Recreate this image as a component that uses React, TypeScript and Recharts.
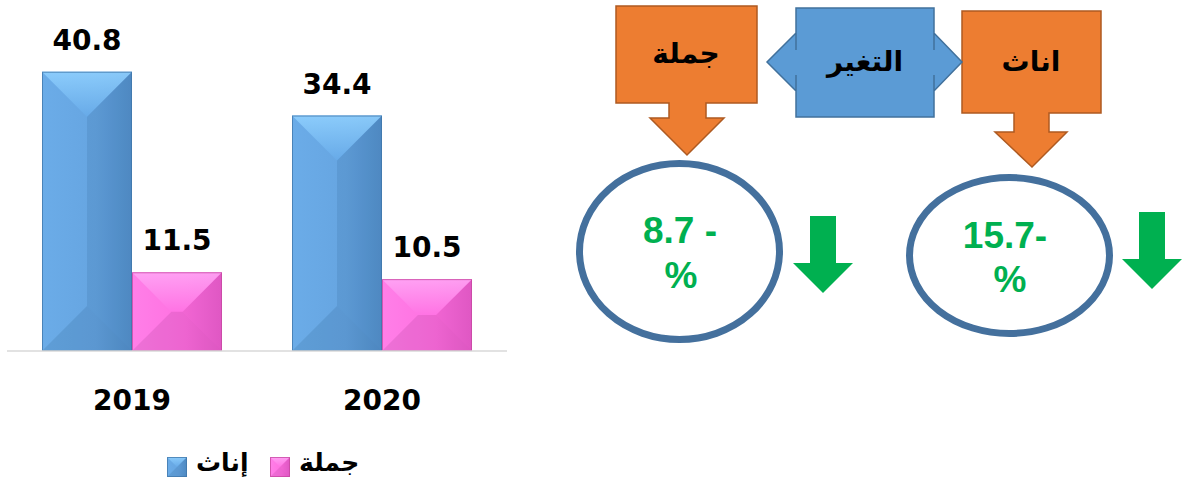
import React from 'react';
import { BarChart, Bar, XAxis, YAxis, LabelList, Legend } from 'recharts';

// ---- data ----
const categories = ['2019', '2020'];
const femaleValues = [40.8, 34.4];
const totalValues = [11.5, 10.5];
const seriesNames = ['إناث', 'جملة'];
const boxTitles = ['جملة', 'التغير', 'اناث'];
const totalChange = ['8.7 -', '%'];
const femaleChange = ['15.7-', '%'];

const data = categories.map((year, i) => ({
  year,
  females: femaleValues[i],
  total: totalValues[i],
}));

const NUM_FONT = '"DejaVu Sans", Verdana, sans-serif';
const AR_FONT = '"DejaVu Sans", sans-serif';
const PCT_FONT = '"Liberation Sans", Arial, sans-serif';

type Palette = {
  key: string;
  left: string;
  mid: string;
  right: string;
  topA: string;
  topB: string;
  stroke: string;
};

const BLUE: Palette = {
  key: 'blue',
  left: '#67AAE8',
  mid: '#62A3E1',
  right: '#5391CE',
  topA: '#92D2FF',
  topB: '#68ABE9',
  stroke: '#3F75A8',
};
const PINK: Palette = {
  key: 'pink',
  left: '#FF7BE8',
  mid: '#FF6CE0',
  right: '#EE5DD0',
  topA: '#FFA9F6',
  topB: '#FF74E4',
  stroke: '#C4479F',
};

function bevelParts(x: number, y: number, w: number, h: number) {
  const cx = x + w / 2;
  const cy = y + h / 2;
  const d = Math.min(w, h) / 2;
  let p1: number[], p2: number[], p3: number[], p4: number[];
  if (w <= h) {
    p1 = [cx, y + d];
    p2 = [cx, y + d];
    p3 = [cx, y + h - d];
    p4 = [cx, y + h - d];
  } else {
    p1 = [x + d, cy];
    p2 = [x + w - d, cy];
    p3 = [x + w - d, cy];
    p4 = [x + d, cy];
  }
  const pts = (arr: number[][]) => arr.map((p) => p.join(',')).join(' ');
  return {
    top: pts([[x, y], [x + w, y], p2, p1]),
    right: pts([[x + w, y], [x + w, y + h], p3, p2]),
    bottom: pts([[x + w, y + h], [x, y + h], p4, p3]),
    left: pts([[x, y + h], [x, y], p1, p4]),
  };
}

function BevelRect({ x, y, w, h, pal, id }: { x: number; y: number; w: number; h: number; pal: Palette; id: string }) {
  const parts = bevelParts(x, y, w, h);
  return (
    <g>
      <defs>
        <linearGradient id={`base-${id}`} x1="0" y1="0" x2="1" y2="0">
          <stop offset="0%" stopColor={pal.left} />
          <stop offset="60%" stopColor={pal.mid} />
          <stop offset="100%" stopColor={pal.right} />
        </linearGradient>
        <linearGradient id={`top-${id}`} x1="0" y1="0" x2="0" y2="1">
          <stop offset="0%" stopColor={pal.topA} />
          <stop offset="100%" stopColor={pal.topB} />
        </linearGradient>
      </defs>
      <rect x={x} y={y} width={w} height={h} fill={`url(#base-${id})`} />
      <polygon points={parts.top} fill={`url(#top-${id})`} opacity={0.85} />
      <polygon points={parts.right} fill="#000" opacity={0.06} />
      <polygon points={parts.bottom} fill="#000" opacity={0.07} />
      <polygon points={parts.left} fill="#fff" opacity={0.03} />
      <rect x={x + 0.5} y={y + 0.5} width={Math.max(w - 1, 0)} height={Math.max(h - 1, 0)} fill="none" stroke={pal.stroke} strokeWidth={1} opacity={0.75} />
    </g>
  );
}

const makeShape = (pal: Palette) => (props: any) => {
  const { x, y, width, height, index } = props;
  if (!width || !height) return <g />;
  return <BevelRect x={x} y={y} w={width} h={height} pal={pal} id={`${pal.key}-${index}`} />;
};

const renderValueLabel = (props: any) => {
  const { x, y, width, value } = props;
  return (
    <text
      x={x + width / 2}
      y={y - 22}
      textAnchor="middle"
      fontFamily={NUM_FONT}
      fontWeight="bold"
      fontSize={28}
      fill="#000"
    >
      {value}
    </text>
  );
};

const renderTick = (props: any) => {
  const { x, y, payload } = props;
  return (
    <text x={x} y={y + 59} textAnchor="middle" fontFamily={NUM_FONT} fontWeight="bold" fontSize={28} fill="#000">
      {payload.value}
    </text>
  );
};

const renderLegend = (props: any) => {
  const payload = props.payload || [];
  const pals = [BLUE, PINK];
  return (
    <svg width={220} height={44} style={{ overflow: 'visible' }}>
      {payload.map((entry: any, i: number) => {
        const ox = 7 + i * 103;
        return (
          <g key={i}>
            <BevelRect x={ox} y={17} w={20} h={20} pal={pals[i]} id={`leg-${i}`} />
            <text x={ox + 29} y={31} fontFamily={AR_FONT} fontWeight="bold" fontSize={25} fill="#000" textAnchor="start">
              {entry.value}
            </text>
          </g>
        );
      })}
    </svg>
  );
};

function Infographic() {
  const orange = '#ED7D31';
  const orangeStroke = '#AE5A21';
  const blue = '#5B9BD5';
  const blueStroke = '#41719C';
  const ring = '#44709D';
  const green = '#00B050';
  return (
    <svg width={1191} height={484} style={{ position: 'absolute', left: 0, top: 0 }}>
      {/* left orange down-arrow callout */}
      <polygon
        points="616,6 757,6 757,103 706,103 706,118 724,118 687,155 650,118 669,118 669,103 616,103"
        fill={orange}
        stroke={orangeStroke}
        strokeWidth={1.5}
      />
      {/* right orange down-arrow callout */}
      <polygon
        points="962,11 1101,11 1101,113 1049,113 1049,132 1067,132 1032,167 995,132 1014,132 1014,113 962,113"
        fill={orange}
        stroke={orangeStroke}
        strokeWidth={1.5}
      />
      {/* blue left-right arrow callout */}
      <path
        d="M796,8 H934 V50 V33 L962,62 L934,91 V75 V117 H796 V75 V91 L767,62 L796,33 V50 Z"
        fill={blue}
        stroke={blueStroke}
        strokeWidth={1.5}
        strokeLinejoin="miter"
      />
      <text x={686} y={63} textAnchor="middle" fontFamily={AR_FONT} fontWeight="bold" fontSize={28} fill="#000">
        {boxTitles[0]}
      </text>
      <text x={865} y={71} textAnchor="middle" fontFamily={AR_FONT} fontWeight="bold" fontSize={28} fill="#000">
        {boxTitles[1]}
      </text>
      <text x={1031} y={71} textAnchor="middle" fontFamily={AR_FONT} fontWeight="bold" fontSize={28} fill="#000">
        {boxTitles[2]}
      </text>

      {/* ellipses */}
      <ellipse cx={679.5} cy={251.5} rx={100} ry={88} fill="#fff" stroke={ring} strokeWidth={7} />
      <ellipse cx={1009.5} cy={255.5} rx={100} ry={78} fill="#fff" stroke={ring} strokeWidth={7} />

      <text x={680} y={243} textAnchor="middle" fontFamily={PCT_FONT} fontWeight="bold" fontSize={37} fill={green} style={{ whiteSpace: 'pre' }}>
        {totalChange[0]}
      </text>
      <text x={681} y={288} textAnchor="middle" fontFamily={PCT_FONT} fontWeight="bold" fontSize={37} fill={green}>
        {totalChange[1]}
      </text>
      <text x={1005} y={248} textAnchor="middle" fontFamily={PCT_FONT} fontWeight="bold" fontSize={37} fill={green}>
        {femaleChange[0]}
      </text>
      <text x={1010} y={292} textAnchor="middle" fontFamily={PCT_FONT} fontWeight="bold" fontSize={37} fill={green}>
        {femaleChange[1]}
      </text>

      {/* green down arrows */}
      <polygon points="810,216 836,216 836,263 853,263 823,293 793,263 810,263" fill={green} />
      <polygon points="1139,212 1165,212 1165,259 1182,259 1152,289 1122,259 1139,259" fill={green} />
    </svg>
  );
}

export default function App() {
  return (
    <div style={{ position: 'absolute', left: 0, top: 0, width: 1191, height: 484, background: '#fff', overflow: 'hidden' }}>
      <Infographic />
      <div style={{ position: 'absolute', left: 0, top: 0 }}>
        <BarChart
          width={520}
          height={484}
          data={data}
          margin={{ top: 43, right: 13, bottom: 0, left: 7 }}
          barCategoryGap="14%"
          barGap={0}
        >
          <XAxis
            dataKey="year"
            height={133}
            axisLine={{ stroke: '#D9D9D9', strokeWidth: 1.5 }}
            tickLine={false}
            tickSize={0}
            tickMargin={0}
            tick={renderTick}
            interval={0}
          />
          <YAxis hide domain={[0, 45]} />
          <Legend
            content={renderLegend}
            verticalAlign="middle"
            align="center"
            layout="horizontal"
            wrapperStyle={{ left: 160, top: 440, width: 220, height: 44 }}
          />
          <Bar dataKey="females" name={seriesNames[0]} fill={BLUE.mid} shape={makeShape(BLUE)} isAnimationActive={false}>
            <LabelList dataKey="females" content={renderValueLabel} />
          </Bar>
          <Bar dataKey="total" name={seriesNames[1]} fill={PINK.mid} shape={makeShape(PINK)} isAnimationActive={false}>
            <LabelList dataKey="total" content={renderValueLabel} />
          </Bar>
        </BarChart>
      </div>
    </div>
  );
}
